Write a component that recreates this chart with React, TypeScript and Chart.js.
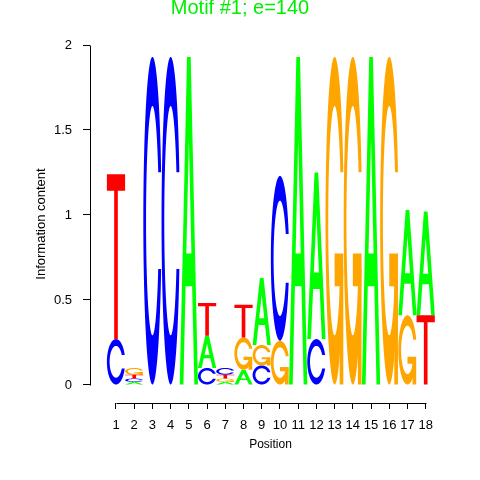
import { useEffect, useRef } from "react";
import { Chart, registerables } from "chart.js";

Chart.register(...registerables);

// ---- data ----
const positions = [1, 2, 3, 4, 5, 6, 7, 8, 9, 10, 11, 12, 13, 14, 15, 16, 17, 18];
const letters = ["A", "C", "G", "T"];
const bitsA = [0, 0.018, 0, 0, 1.93, 0.19, 0.018, 0.09, 0.395, 0, 1.93, 0.98, 0, 0, 1.93, 0, 0.62, 0.61];
const bitsC = [0.27, 0.02, 1.93, 1.93, 0, 0.1, 0.04, 0, 0.115, 0.97, 0, 0.27, 0, 0, 0, 0, 0, 0];
const bitsG = [0, 0.04, 0, 0, 0, 0, 0.02, 0.19, 0.12, 0.26, 0, 0, 1.93, 1.93, 0, 1.93, 0.41, 0];
const bitsT = [0.97, 0.022, 0, 0, 0, 0.192, 0.022, 0.192, 0, 0, 0, 0, 0, 0, 0, 0, 0, 0.41];
const yTicks = [0, 0.5, 1, 1.5, 2];
const titleText = "Motif #1; e=140";
const xTitle = "Position";
const yTitle = "Information content";

// ---- styles ----
const FONT = "'Liberation Sans', Arial, Helvetica, sans-serif";
const letterColors: Record<string, string> = { A: "#00FF00", C: "#0000FF", G: "#FFA500", T: "#FF0000" };
const TITLE_COLOR = "#00EE00";
const X_MIN = -0.427;
const X_MAX = 19.389;
const Y_MIN = -0.106;
const Y_MAX = 2;

const bitsByLetter: Record<string, number[]> = { A: bitsA, C: bitsC, G: bitsG, T: bitsT };

function buildStacks() {
  const out: Record<string, { x: number; y: [number, number] }[]> = { A: [], C: [], G: [], T: [] };
  positions.forEach((p, i) => {
    const col = letters
      .map((l) => ({ l, h: bitsByLetter[l][i] }))
      .filter((d) => d.h > 0)
      .sort((a, b) => a.h - b.h);
    let base = 0;
    col.forEach((d) => {
      out[d.l].push({ x: p, y: [base, base + d.h] });
      base += d.h;
    });
  });
  return out;
}

type Poly = [number, number][];

function seq(a: number, b: number, n: number) {
  return Array.from({ length: n }, (_, k) => a + ((b - a) * k) / (n - 1));
}

function ringPoly(): Poly {
  const n = 100;
  const a1 = seq(0.3 + Math.PI / 2, Math.PI, n);
  const a2 = seq(Math.PI, 1.5 * Math.PI, n);
  const xl1 = a1.map((a) => 0.5 + 0.5 * Math.sin(a));
  const yl1 = a1.map((a) => 0.5 + 0.5 * Math.cos(a));
  const xl2 = a2.map((a) => 0.5 + 0.5 * Math.sin(a));
  const yl2 = a2.map((a) => 0.5 + 0.5 * Math.cos(a));
  const xl = [...xl1, ...xl2];
  const yl = [...yl1, ...yl2];
  const x = [...xl, ...xl.slice().reverse()];
  const y = [...yl, ...yl.slice().reverse().map((v) => 1 - v)];
  const hl = Math.max(...yl1);
  let xi1 = a1.map((a) => 0.5 + 0.35 * Math.sin(a));
  let yi1 = a1.map((a) => 0.5 + 0.35 * Math.cos(a));
  const keep = yi1.map((v) => v <= hl);
  xi1 = xi1.filter((_, k) => keep[k]);
  yi1 = yi1.filter((_, k) => keep[k]);
  yi1[0] = hl;
  const xi2 = a2.map((a) => 0.5 + 0.35 * Math.sin(a));
  const yi2 = a2.map((a) => 0.5 + 0.35 * Math.cos(a));
  const xi = [...xi1, ...xi2];
  const yi = [...yi1, ...yi2];
  const x1 = [...xi, ...xi.slice().reverse()];
  const y1 = [...yi, ...yi.slice().reverse().map((v) => 1 - v)];
  const X = [...x, ...x1.slice().reverse()];
  const Y = [...y, ...y1.slice().reverse()];
  return X.map((v, k) => [v, Y[k]]);
}

const RING = ringPoly();
const R1 = 0.5 + 0.5 * Math.sin(0.3 + Math.PI / 2);

const glyphs: Record<string, Poly[]> = {
  A: [
    [[0, 0], [0.4, 1], [0.6, 1], [1, 0], [0.8, 0], [0.68, 0.3], [0.32, 0.3], [0.2, 0], [0, 0]],
    [[0.36, 0.4], [0.5, 0.75], [0.64, 0.4], [0.36, 0.4]],
  ],
  C: [RING],
  G: [RING, [[R1, 0.4], [0.5, 0.4], [0.5, 0.3], [R1 - 0.2, 0.3], [R1 - 0.2, 0], [R1, 0], [R1, 0.4]]],
  T: [[[0, 1], [1, 1], [1, 0.9], [0.6, 0.9], [0.6, 0], [0.4, 0], [0.4, 0.9], [0, 0.9]]],
};

function drawGlyph(ctx: CanvasRenderingContext2D, letter: string, left: number, bottom: number, w: number, h: number) {
  const polys = glyphs[letter];
  ctx.save();
  ctx.fillStyle = letterColors[letter];
  if (letter === "A") {
    ctx.beginPath();
    polys.forEach((p) => {
      p.forEach(([u, v], k) => {
        const px = left + u * w;
        const py = bottom - v * h;
        if (k === 0) ctx.moveTo(px, py);
        else ctx.lineTo(px, py);
      });
      ctx.closePath();
    });
    ctx.fill("evenodd");
  } else {
    polys.forEach((p) => {
      ctx.beginPath();
      p.forEach(([u, v], k) => {
        const px = left + u * w;
        const py = bottom - v * h;
        if (k === 0) ctx.moveTo(px, py);
        else ctx.lineTo(px, py);
      });
      ctx.closePath();
      ctx.fill();
    });
  }
  ctx.restore();
}

const logoPlugin = {
  id: "logoLetters",
  afterDatasetsDraw(chart: any) {
    const ctx = chart.ctx as CanvasRenderingContext2D;
    chart.data.datasets.forEach((ds: any, di: number) => {
      const meta = chart.getDatasetMeta(di);
      meta.data.forEach((el: any) => {
        const { x, y, base, width } = el.getProps(["x", "y", "base", "width"], true);
        const top = Math.min(y, base);
        const bottom = Math.max(y, base);
        drawGlyph(ctx, ds.label, x - width / 2, bottom, width, bottom - top);
      });
    });
  },
};

const axisLinePlugin = {
  id: "axisLines",
  afterDraw(chart: any) {
    const ctx = chart.ctx as CanvasRenderingContext2D;
    const xs = chart.scales.x;
    const ys = chart.scales.y;
    ctx.save();
    ctx.strokeStyle = "#000";
    ctx.lineWidth = 1;
    ctx.beginPath();
    const ax = Math.round(ys.right) + 0.5;
    ctx.moveTo(ax, Math.round(ys.getPixelForValue(yTicks[yTicks.length - 1])) + 0.5);
    ctx.lineTo(ax, Math.round(ys.getPixelForValue(yTicks[0])) + 0.5);
    const ay = Math.round(xs.top) + 0.5;
    ctx.moveTo(Math.round(xs.getPixelForValue(positions[0])) + 0.5, ay);
    ctx.lineTo(Math.round(xs.getPixelForValue(positions[positions.length - 1])) + 0.5, ay);
    ctx.stroke();
    // main title, centred on the whole figure
    ctx.fillStyle = TITLE_COLOR;
    ctx.font = `20px ${FONT}`;
    ctx.textAlign = "center";
    ctx.textBaseline = "middle";
    ctx.fillText(titleText, chart.width / 2, 8);
    ctx.restore();
  },
};

export default function App() {
  const ref = useRef<HTMLCanvasElement | null>(null);
  useEffect(() => {
    if (!ref.current) return;
    const stacks = buildStacks();
    const chart = new Chart(ref.current, {
      type: "bar",
      data: {
        datasets: letters.map((l) => ({
          label: l,
          data: stacks[l] as any,
          backgroundColor: "rgba(0,0,0,0)",
          borderWidth: 0,
          grouped: false,
          barPercentage: 1,
          categoryPercentage: 1,
        })),
      },
      options: {
        responsive: false,
        animation: false,
        events: [],
        layout: { padding: { left: 0, right: 29, top: 45, bottom: 0 } },
        plugins: {
          legend: { display: false },
          tooltip: { enabled: false },
          title: { display: false },
        },
        scales: {
          x: {
            type: "linear",
            min: X_MIN,
            max: X_MAX,
            offset: false,
            bounds: "data",
            afterBuildTicks: (s: any) => {
              s.ticks = positions.map((v) => ({ value: v }));
            },
            afterFit: (s: any) => {
              s.height = 77;
            },
            grid: { offset: false, drawOnChartArea: false, drawTicks: true, tickLength: 6, color: "#000", lineWidth: 1 },
            border: { display: false },
            ticks: {
              autoSkip: false,
              maxRotation: 0,
              color: "#000",
              padding: 9,
              font: { family: FONT, size: 13 },
              callback: (v: any) => String(v),
            },
            title: {
              display: true,
              text: xTitle,
              color: "#000",
              font: { family: FONT, size: 12 },
              padding: { top: 0, bottom: 28 },
            },
          },
          y: {
            type: "linear",
            min: Y_MIN,
            max: Y_MAX,
            afterBuildTicks: (s: any) => {
              s.ticks = yTicks.map((v) => ({ value: v }));
            },
            afterFit: (s: any) => {
              s.width = 90;
            },
            grid: { drawOnChartArea: false, drawTicks: true, tickLength: 7, color: "#000", lineWidth: 1 },
            border: { display: false },
            ticks: {
              color: "#000",
              padding: 11,
              font: { family: FONT, size: 13 },
              callback: (v: any) => String(v),
            },
            title: {
              display: true,
              text: yTitle,
              color: "#000",
              font: { family: FONT, size: 13 },
              padding: { top: 34, bottom: 0 },
            },
          },
        },
      } as any,
      plugins: [logoPlugin, axisLinePlugin],
    });
    return () => chart.destroy();
  }, []);
  return (
    <div style={{ position: "absolute", left: 0, top: 0, width: 480, height: 480, background: "#fff" }}>
      <canvas ref={ref} width={480} height={480} style={{ display: "block", width: 480, height: 480 }} />
    </div>
  );
}
